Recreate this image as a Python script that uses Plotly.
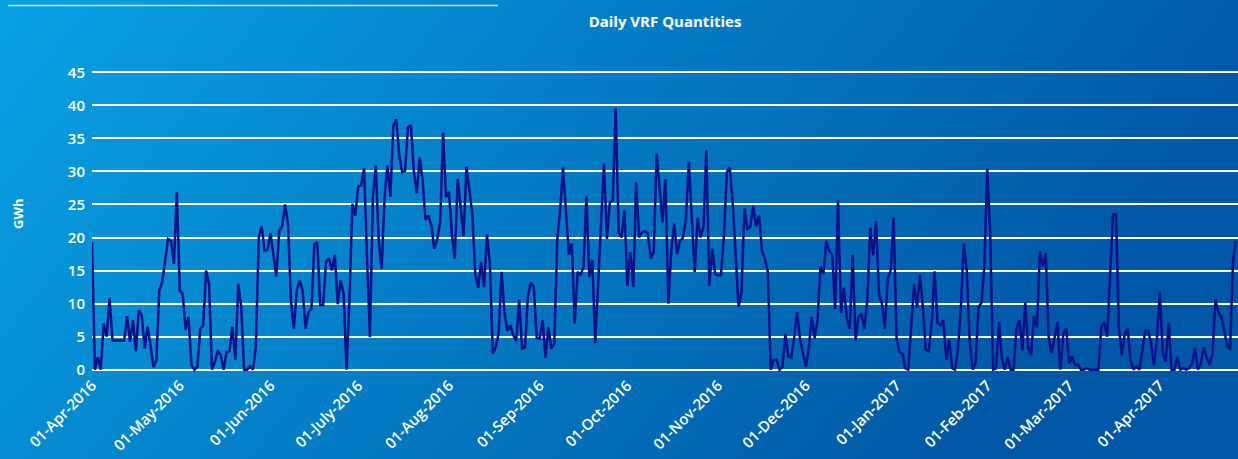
import base64
import pandas as pd
import plotly.graph_objects as go

# ---------------- data (GWh per day) ----------------
start_date = "2016-04-01"

vrf_apr_may = [19.3, 0, 1.9, 0, 7, 5, 10.8, 4.4, 4.4, 4.4, 4.4, 4.4, 8.1, 4.2, 7.5, 2.8, 9, 8.2,
               3.2, 6.5, 3.7, 0.4, 1.4, 12, 13.2, 16.5, 19.8, 19.5, 16, 26.9, 12, 11.5, 6, 8, 0.7,
               0, 0.4, 6.2, 6.7, 15, 13, 0, 1.2, 2.9, 2.2, 0, 2.7, 2.8, 6.5, 1.5]
vrf_may_jul = [13, 9.5, 0, 0, 0.5, 0, 3.4, 20, 21.7, 18, 18.1, 20.7, 17.5, 14.1, 21, 21.7, 25,
               22, 10.5, 6.2, 12, 13.5, 12, 6.2, 8.7, 9.2, 19, 19.3, 9.8, 9.8, 16.3, 16.9, 15, 17.4,
               9.9, 13.5, 11.5, 0, 10.5, 25.1, 23.3, 27.7, 27.9, 30.5, 17, 4.9, 26.1, 30.9]
vrf_jul_aug = [19.5, 15.3, 26.1, 30.9, 26.2, 36.9, 37.9, 32.6, 29.9, 30.1, 36.7, 37, 30.1, 26.7,
               32.1, 28.6, 22.7, 23.3, 21.8, 18.3, 19.8, 22.3, 35.9, 26.1, 26.9, 20.6, 16.8, 28.9,
               24.6, 20.2, 30.7, 27.4, 23.6, 14.5, 12.4, 16.3, 12.5, 20.5, 16, 2.4, 3.4, 5.5, 14.8,
               8.5, 5.9, 6.7, 5.2, 4.3, 10.6]
vrf_aug_oct = [3.2, 3.4, 11.2, 13.2, 12.5, 4.8, 4.7, 7.5, 1.8, 6.4, 3.2, 3.9, 19.5, 24.1, 30.6,
               23.6, 17.4, 19.1, 7, 14.8, 14.4, 15.5, 26.3, 14, 16.6, 4, 13.2, 24.1, 31.2, 19.8,
               25.3, 25.6, 39.6, 20.8, 20, 24.1, 12.7, 17.8, 12.5, 28.4, 20, 20.8, 21, 20.6, 16.8,
               17.8, 32.7, 27.6, 22.3, 28.8]
vrf_oct_nov = [10, 18, 22.1, 17.5, 19.5, 20, 22.8, 31.4, 23.1, 14.8, 23, 20, 21.6, 33.2, 12.7,
               18.3, 14.5, 14.3, 14.3, 20.3, 29.9, 30.6, 25.1, 16.8, 9.5, 11.7, 24.4, 21.3, 21.6,
               24.8, 21.7, 23.3, 18, 16.8, 14.8, 0, 1.5, 1.5, 0, 0.4, 5.4, 2, 1.8, 4.9, 8.7, 4.7,
               2.4, 0.4, 3.2, 8]
vrf_nov_jan = [4.8, 7.5, 15.6, 14.5, 19.5, 18, 17.4, 9.2, 25.6, 8.6, 12.4, 7.7, 6.2, 17.4, 4.4,
               8, 8.5, 6.2, 10.5, 21.5, 17.3, 22.5, 11.5, 10, 6.2, 13.8, 15, 23, 4.7, 2.7, 2.4,
               0.2, 0, 5.9, 13, 9.4, 14.4, 9.5, 3, 2.8, 7.1, 14.9, 7.1, 6.7, 7.5, 1.5, 4.5, 0.2,
               0, 3.2, 9.5]
vrf_jan_mar = [19.1, 15, 4.4, 0, 0.9, 9.5, 10.1, 15.5, 30.4, 20.6, 0, 0.2, 7.2, 1.7, 0, 1.9, 0,
               0, 6.2, 7.5, 2.9, 10.2, 3.4, 2.2, 8.1, 6.4, 17.9, 15.6, 17.6, 4.9, 2.5, 4.8, 7.2, 0,
               5.4, 6.3, 0.9, 2, 0.7, 0.8, 0, 0, 0.2, 0, 0, 0, 0]
vrf_mar_apr = [6.5, 7.2, 5, 14.5, 23.5, 23.5, 6.4, 2.2, 5.4, 6.2, 1.4, 0, 0.5, 0, 2.9, 5.9, 5.9,
               3.9, 0.7, 4.7, 11.7, 2.5, 1.2, 7.1, 0, 0, 1.9, 0, 0.2, 0, 0.2, 0.9, 3.3, 0, 0.9,
               3.4, 1.9, 0.7, 2.4, 10.6, 8.7, 8, 5.9, 3.7, 3, 16.3, 19.5]

tick_dates = ["2016-04-01", "2016-05-01", "2016-06-01", "2016-07-01", "2016-08-01",
              "2016-09-01", "2016-10-01", "2016-11-01", "2016-12-01", "2017-01-01",
              "2017-02-01", "2017-03-01", "2017-04-01"]
tick_labels = ["01-Apr-2016", "01-May-2016", "01-Jun-2016", "01-July-2016", "01-Aug-2016",
               "01-Sep-2016", "01-Oct-2016", "01-Nov-2016", "01-Dec-2016", "01-Jan-2017",
               "01-Feb-2017", "01-Mar-2017", "01-Apr-2017"]

values = (vrf_apr_may + vrf_may_jul + vrf_jul_aug + vrf_aug_oct + vrf_oct_nov
          + vrf_nov_jan + vrf_jan_mar + vrf_mar_apr)
dates = pd.date_range(start=start_date, periods=len(values), freq="D")

# ---------------- figure ----------------
W, H = 1238, 459
ML, MR, MT, MB = 92, 0, 69, 86
PW, PH = W - ML - MR, H - MT - MB

FONT = "Open Sans, Noto Sans, DejaVu Sans, sans-serif"

fig = go.Figure()
fig.add_trace(go.Scatter(
    x=dates, y=values, mode="lines",
    line=dict(color="#10108a", width=2.5),
    hoverinfo="x+y",
))

svg = (
    f'<svg xmlns="http://www.w3.org/2000/svg" width="{W}" height="{H}" '
    f'viewBox="0 0 {W} {H}" preserveAspectRatio="none">'
    '<defs><linearGradient id="g" x1="0" y1="0" x2="1" y2="0.3">'
    '<stop offset="0" stop-color="#08a2e4"/>'
    '<stop offset="0.45" stop-color="#0480c8"/>'
    '<stop offset="1" stop-color="#0057a5"/>'
    '</linearGradient></defs>'
    f'<rect width="{W}" height="{H}" fill="url(#g)"/></svg>'
)
bg_src = "data:image/svg+xml;base64," + base64.b64encode(svg.encode()).decode()

def px_x(x):
    return (x - ML) / PW

def px_y(y):
    return (H - MB - y) / PH

fig.update_layout(
    width=W, height=H,
    margin=dict(l=ML, r=MR, t=MT, b=MB, pad=0),
    paper_bgcolor="#047cc6",
    plot_bgcolor="rgba(0,0,0,0)",
    showlegend=False,
    title=dict(text="Daily VRF Quantities", x=0.5, xref="paper", xanchor="center",
               y=1 - 22 / H, yref="container", yanchor="middle",
               font=dict(family=FONT, size=15, color="white", weight=700)),
    images=[dict(source=bg_src, xref="paper", yref="paper",
                 x=px_x(0), y=px_y(0), sizex=W / PW, sizey=H / PH,
                 xanchor="left", yanchor="top", sizing="stretch", layer="below")],
    shapes=[dict(type="line", xref="paper", yref="paper",
                 x0=px_x(8), x1=px_x(498), y0=px_y(5.5), y1=px_y(5.5),
                 line=dict(color="rgba(220,240,255,0.85)", width=1.5))],
    annotations=[dict(text="GWh", xref="paper", yref="paper", x=px_x(18), y=px_y(214),
                      showarrow=False, textangle=-90, xanchor="center", yanchor="middle",
                      font=dict(family=FONT, size=13, color="white", weight=700))],
)

fig.update_xaxes(
    type="date",
    range=["2016-04-01", "2017-04-27 17:00"],
    tickvals=tick_dates, ticktext=tick_labels, tickangle=-45,
    tickfont=dict(family=FONT, size=15, color="white", weight=600),
    showgrid=False, zeroline=False, showline=False, ticks="",
)
fig.update_yaxes(
    range=[-0.5, 45.5], dtick=5, tick0=0,
    showgrid=True, gridcolor="white", gridwidth=1.5,
    zeroline=False, showline=False, ticks="",
    ticklabelstandoff=6,
    tickfont=dict(family=FONT, size=15, color="white", weight=600),
)

fig.write_html("out.html", config={"displayModeBar": False},
               post_script="document.body.style.margin='0';document.body.style.overflow='hidden';")
